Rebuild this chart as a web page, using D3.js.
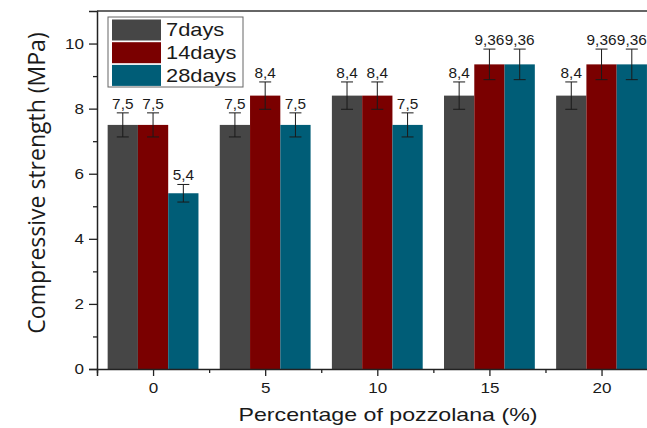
<!DOCTYPE html>
<html><head><meta charset="utf-8">
<script src="https://cdn.jsdelivr.net/npm/d3@7"></script>
<style>body{margin:0;background:#fff}svg{display:block}</style>
</head><body>
<svg id="chart" width="647" height="428"></svg>
<script>
const categories = [0, 5, 10, 15, 20];
const seriesNames = ["7days", "14days", "28days"];
const values7 = [7.5, 7.5, 8.4, 8.4, 8.4];
const values14 = [7.5, 8.4, 8.4, 9.36, 9.36];
const values28 = [5.4, 7.5, 7.5, 9.36, 9.36];
const errors7 = [0.37, 0.37, 0.42, 0.42, 0.42];
const errors14 = [0.37, 0.42, 0.42, 0.47, 0.47];
const errors28 = [0.27, 0.37, 0.37, 0.47, 0.47];
const labels7 = ["7,5", "7,5", "8,4", "8,4", "8,4"];
const labels14 = ["7,5", "8,4", "8,4", "9,36", "9,36"];
const labels28 = ["5,4", "7,5", "7,5", "9,36", "9,36"];
const colors = ["#464646", "#7a0000", "#005d77"];
const yTicks = [0, 2, 4, 6, 8, 10];

const svg = d3.select("#chart");
const x = d3.scaleLinear().domain([-2.5, 22.5]).range([97, 657.6]);
const y = d3.scaleLinear().domain([0, 11]).range([369, 11]);
const barW = 1.35;
const sans = "Liberation Sans, Arial, sans-serif";

function stretch(sel, k) {
  sel.each(function () {
    const w = this.getComputedTextLength();
    d3.select(this).attr("textLength", w * k).attr("lengthAdjust", "spacingAndGlyphs");
  });
}

const series = [
  {name: seriesNames[0], vals: values7, errs: errors7, labs: labels7, color: colors[0], off: -1},
  {name: seriesNames[1], vals: values14, errs: errors14, labs: labels14, color: colors[1], off: 0},
  {name: seriesNames[2], vals: values28, errs: errors28, labs: labels28, color: colors[2], off: 1}
];

// bars
series.forEach(s => {
  const g = svg.append("g");
  categories.forEach((c, i) => {
    const cx = c + s.off * barW;
    g.append("rect")
      .attr("x", x(cx - barW / 2))
      .attr("y", y(s.vals[i]))
      .attr("width", x(cx + barW / 2) - x(cx - barW / 2))
      .attr("height", y(0) - y(s.vals[i]))
      .attr("fill", s.color);
  });
});

// error bars and labels
series.forEach(s => {
  categories.forEach((c, i) => {
    const px = x(c + s.off * barW);
    const top = y(s.vals[i] + s.errs[i]), bot = y(s.vals[i] - s.errs[i]);
    const eg = svg.append("g").attr("stroke", "#1a1a1a").attr("stroke-width", 1);
    eg.append("line").attr("x1", px).attr("x2", px).attr("y1", top).attr("y2", bot);
    eg.append("line").attr("x1", px - 6).attr("x2", px + 6).attr("y1", top).attr("y2", top);
    eg.append("line").attr("x1", px - 6).attr("x2", px + 6).attr("y1", bot).attr("y2", bot);
    const t = svg.append("text")
      .attr("x", px).attr("y", top - 4)
      .attr("text-anchor", "middle")
      .attr("font-family", sans)
      .attr("font-size", 14.5)
      .attr("fill", "#1a1a1a")
      .text(s.labs[i]);
    stretch(t, 1.06);
  });
});

// axes
const axisColor = "#222";
const yAxis = d3.axisLeft(y).tickValues(yTicks).tickSize(8).tickPadding(5);
svg.append("g").attr("transform", "translate(97,0)").call(yAxis);
const yMinor = d3.axisLeft(y).tickValues([1, 3, 5, 7, 9]).tickSize(4).tickFormat("");
svg.append("g").attr("transform", "translate(97,0)").call(yMinor).select(".domain").remove();

const xAxis = d3.axisBottom(x).tickValues(categories).tickSize(7).tickPadding(6);
svg.append("g").attr("transform", "translate(0,369)").call(xAxis);
const xMinor = d3.axisBottom(x).tickValues([-2.5, 2.5, 7.5, 12.5, 17.5]).tickSize(4).tickFormat("");
svg.append("g").attr("transform", "translate(0,369)").call(xMinor).select(".domain").remove();

svg.selectAll(".domain").attr("stroke", axisColor).attr("stroke-width", 1.5);
svg.selectAll(".tick line").attr("stroke", axisColor).attr("stroke-width", 1.3);
svg.selectAll(".tick text")
  .attr("font-family", sans)
  .attr("font-size", 15.5)
  .attr("fill", "#1a1a1a");
stretch(svg.selectAll(".tick text"), 1.1);

// top frame line
svg.append("line").attr("x1", 97).attr("x2", 647).attr("y1", y(11)).attr("y2", y(11))
  .attr("stroke", "#333").attr("stroke-width", 1.5);

// axis titles
svg.append("text")
  .attr("transform", "translate(45,183) rotate(-90)")
  .attr("text-anchor", "middle")
  .attr("font-family", "Open Sans, sans-serif")
  .attr("font-size", 23)
  .attr("fill", "#1a1a1a")
  .text("Compressive strength (MPa)");
svg.append("text")
  .attr("x", 388).attr("y", 421)
  .attr("text-anchor", "middle")
  .attr("font-family", sans)
  .attr("font-size", 18.5)
  .attr("fill", "#1a1a1a")
  .attr("textLength", 299).attr("lengthAdjust", "spacingAndGlyphs")
  .text("Percentage of pozzolana (%)");

// legend
const lg = svg.append("g");
lg.append("rect").attr("x", 108).attr("y", 17).attr("width", 135).attr("height", 70)
  .attr("fill", "#fff").attr("stroke", "#666").attr("stroke-width", 1);
series.forEach((s, i) => {
  lg.append("rect").attr("x", 112).attr("y", 19.5 + i * 22.7).attr("width", 49).attr("height", 21)
    .attr("fill", s.color);
  const t = lg.append("text").attr("x", 166).attr("y", 36 + i * 23)
    .attr("font-family", sans)
    .attr("font-size", 18.5)
    .attr("fill", "#1a1a1a")
    .text(s.name);
  stretch(t, 1.18);
});
</script>
</body></html>
